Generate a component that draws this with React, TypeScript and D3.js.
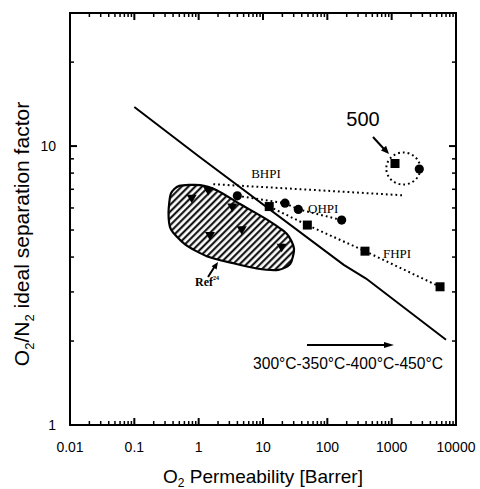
import React from "react";
import * as d3 from "d3";

const xTickValues = [0.01, 0.1, 1, 10, 100, 1000, 10000];
const xTickLabels = ["0.01", "0.1", "1", "10", "100", "1000", "10000"];
const yTickValues = [1, 10];
const yTickLabels = ["1", "10"];

// Upper bound (solid line)
const boundP = [0.1, 1, 180, 400, 7000];
const boundA = [13.8, 9.2, 3.75, 3.35, 2.02];

// Ref 24 region (triangles)
const refP = [0.78, 1.41, 3.33, 4.67, 1.5, 19.5];
const refA = [6.48, 6.9, 6.02, 4.99, 4.76, 4.32];

// Hatched region outline
const blobP = [0.34, 0.37, 0.5, 1.05, 1.91, 4.4, 11.4, 23.4, 30.3, 26.5, 17.3, 7.98, 3.46, 1.33, 0.614, 0.37];
const blobA = [5.77, 6.75, 7.2, 7.25, 6.95, 6.2, 5.46, 4.85, 4.3, 3.78, 3.6, 3.64, 3.8, 4.03, 4.44, 5.03];

// BHPI (dotted, no markers)
const bhpiP = [1.69, 40, 1517];
const bhpiA = [7.3, 7.0, 6.66];

// OHPI circles
const ohpiP = [3.99, 22.0, 35.4, 167];
const ohpiA = [6.63, 6.24, 5.93, 5.43];

// FHPI squares
const fhpiP = [12.5, 48.9, 385, 5650];
const fhpiA = [6.07, 5.21, 4.2, 3.13];

// 500 °C points
const p500Square = [1127, 8.66];
const p500Circle = [2690, 8.27];
const p500Center = [1517, 8.31];

const L = 70, R = 456, T = 13, B = 425;

export default function App() {
  const x = d3.scaleLog().domain([0.01, 10000]).range([L, R]);
  const y = d3.scaleLog().domain([1, 30]).range([B, T]);

  const line = d3.line<[number, number]>().x((d) => x(d[0])).y((d) => y(d[1]));
  const zip = (a: number[], b: number[]) => a.map((v, i) => [v, b[i]] as [number, number]);

  const blobPath = d3
    .line<[number, number]>()
    .x((d) => x(d[0]))
    .y((d) => y(d[1]))
    .curve(d3.curveCardinalClosed.tension(0.3))(zip(blobP, blobA));

  const xMinor: number[] = [];
  for (let e = -2; e < 4; e++) for (let k = 2; k <= 9; k++) xMinor.push(k * Math.pow(10, e));
  const yMinor: number[] = [];
  for (let e = 0; e < 2; e++) for (let k = 2; k <= 9; k++) {
    const v = k * Math.pow(10, e);
    if (v < 30) yMinor.push(v);
  }

  const font = "'Liberation Sans', Arial, sans-serif";
  const serif = "'Liberation Serif', 'Times New Roman', serif";

  const tri = (cx: number, cy: number, s = 5) =>
    `M${cx - s},${cy - s * 0.8}L${cx + s},${cy - s * 0.8}L${cx},${cy + s * 0.9}Z`;

  const arrowHead = (x1: number, y1: number, x2: number, y2: number, len = 9, w = 3.5) => {
    const ang = Math.atan2(y2 - y1, x2 - x1);
    const bx = x2 - len * Math.cos(ang), by = y2 - len * Math.sin(ang);
    const px = -Math.sin(ang) * w, py = Math.cos(ang) * w;
    return `M${x2},${y2}L${bx + px},${by + py}L${bx - px},${by - py}Z`;
  };

  const dot = { stroke: "#000", strokeWidth: 2, strokeDasharray: "1.8,3", fill: "none" };

  const ticks: any[] = [];
  xTickValues.forEach((v) => {
    ticks.push(<line key={"xb" + v} x1={x(v)} x2={x(v)} y1={B} y2={B - 7} stroke="#000" strokeWidth={2} />);
    ticks.push(<line key={"xtp" + v} x1={x(v)} x2={x(v)} y1={T} y2={T + 7} stroke="#000" strokeWidth={2} />);
  });
  xMinor.forEach((v) => {
    ticks.push(<line key={"xmb" + v} x1={x(v)} x2={x(v)} y1={B} y2={B - 4} stroke="#000" strokeWidth={1.5} />);
    ticks.push(<line key={"xmt" + v} x1={x(v)} x2={x(v)} y1={T} y2={T + 4} stroke="#000" strokeWidth={1.5} />);
  });
  yTickValues.forEach((v) => {
    ticks.push(<line key={"yl" + v} x1={L} x2={L + 7} y1={y(v)} y2={y(v)} stroke="#000" strokeWidth={2} />);
    ticks.push(<line key={"yr" + v} x1={R} x2={R - 7} y1={y(v)} y2={y(v)} stroke="#000" strokeWidth={2} />);
  });
  yMinor.forEach((v) => {
    ticks.push(<line key={"yml" + v} x1={L} x2={L + 4} y1={y(v)} y2={y(v)} stroke="#000" strokeWidth={1.5} />);
    ticks.push(<line key={"ymr" + v} x1={R} x2={R - 4} y1={y(v)} y2={y(v)} stroke="#000" strokeWidth={1.5} />);
  });

  return (
    <svg width={480} height={489} style={{ position: "absolute", left: 0, top: 0, background: "#fff" }}>
      <defs>
        <pattern id="hatch" patternUnits="userSpaceOnUse" width={4.8} height={4.8} patternTransform="rotate(45)">
          <rect width={4.8} height={4.8} fill="#fff" />
          <line x1={1.2} y1={0} x2={1.2} y2={4.8} stroke="#000" strokeWidth={2} />
        </pattern>
        <clipPath id="plot">
          <rect x={L} y={T} width={R - L} height={B - T} />
        </clipPath>
      </defs>

      {/* hatched region */}
      <path d={blobPath || ""} fill="url(#hatch)" stroke="#000" strokeWidth={2.2} />

      {/* upper bound */}
      <path d={line(zip(boundP, boundA)) || ""} fill="none" stroke="#000" strokeWidth={2} clipPath="url(#plot)" />

      {/* dotted series */}
      <path d={line(zip(bhpiP, bhpiA)) || ""} {...dot} />
      <path d={line(zip(ohpiP, ohpiA)) || ""} {...dot} />
      <path d={line(zip(fhpiP, fhpiA)) || ""} {...dot} />

      {/* 500 dotted ellipse */}
      <ellipse cx={x(p500Center[0])} cy={y(p500Center[1])} rx={17} ry={16} {...dot} />

      {/* triangles */}
      {refP.map((p, i) => (
        <path key={"t" + i} d={tri(x(p), y(refA[i]))} fill="#000" />
      ))}
      {/* circles */}
      {ohpiP.map((p, i) => (
        <circle key={"c" + i} cx={x(p)} cy={y(ohpiA[i])} r={4.6} fill="#000" />
      ))}
      <circle cx={x(p500Circle[0])} cy={y(p500Circle[1])} r={4.6} fill="#000" />
      {/* squares */}
      {fhpiP.map((p, i) => (
        <rect key={"s" + i} x={x(p) - 4.5} y={y(fhpiA[i]) - 4.5} width={9} height={9} fill="#000" />
      ))}
      <rect x={x(p500Square[0]) - 4.5} y={y(p500Square[1]) - 4.5} width={9} height={9} fill="#000" />

      {/* labels */}
      <text x={266} y={178} fontFamily={serif} fontSize={13} textAnchor="middle" fill="#000">BHPI</text>
      <text x={308} y={213} fontFamily={serif} fontSize={13} fill="#000">OHPI</text>
      <text x={383} y={258} fontFamily={serif} fontSize={13} fill="#000">FHPI</text>
      <text x={195} y={286} fontFamily={serif} fontSize={12} fontWeight="bold" fill="#000">
        Ref<tspan fontSize={6} dy={-6}>24</tspan>
      </text>
      <line x1={208} y1={277} x2={215} y2={266} stroke="#000" strokeWidth={2} />
      <path d={arrowHead(208, 277, 218, 262, 7, 3)} fill="#000" />

      <text x={363} y={126} fontFamily={font} fontSize={20} textAnchor="middle" fill="#000">500</text>
      <line x1={373} y1={137} x2={384} y2={149} stroke="#000" strokeWidth={2} />
      <path d={arrowHead(373, 137, 389, 154, 8, 3.5)} fill="#000" />

      <line x1={307} y1={345} x2={386} y2={345} stroke="#000" strokeWidth={2} />
      <path d={arrowHead(307, 345, 394, 345, 10, 3)} fill="#000" />
      <text x={253} y={369} fontFamily={font} fontSize={16} fill="#000" textLength={190} lengthAdjust="spacingAndGlyphs">
        300°C-350°C-400°C-450°C
      </text>

      {/* frame */}
      <rect x={L} y={T} width={R - L} height={B - T} fill="none" stroke="#000" strokeWidth={2} />
      {ticks}

      {/* tick labels */}
      {xTickValues.map((v, i) => (
        <text key={"xl" + v} x={x(v)} y={452} fontFamily={font} fontSize={14} textAnchor="middle" fill="#000">
          {xTickLabels[i]}
        </text>
      ))}
      {yTickValues.map((v, i) => (
        <text key={"ylb" + v} x={56} y={y(v) + 5} fontFamily={font} fontSize={14} textAnchor="end" fill="#000">
          {yTickLabels[i]}
        </text>
      ))}

      {/* axis titles */}
      <text x={263} y={483} fontFamily={font} fontSize={19} textAnchor="middle" fill="#000">
        O<tspan fontSize={12} dy={4}>2</tspan><tspan dy={-4}> Permeability [Barrer]</tspan>
      </text>
      <text transform="translate(29,234) rotate(-90)" fontFamily={font} fontSize={21} textAnchor="middle" fill="#000">
        O<tspan fontSize={13} dy={5}>2</tspan><tspan dy={-5}>/N</tspan><tspan fontSize={13} dy={5}>2</tspan><tspan dy={-5}> ideal separation factor</tspan>
      </text>
    </svg>
  );
}
